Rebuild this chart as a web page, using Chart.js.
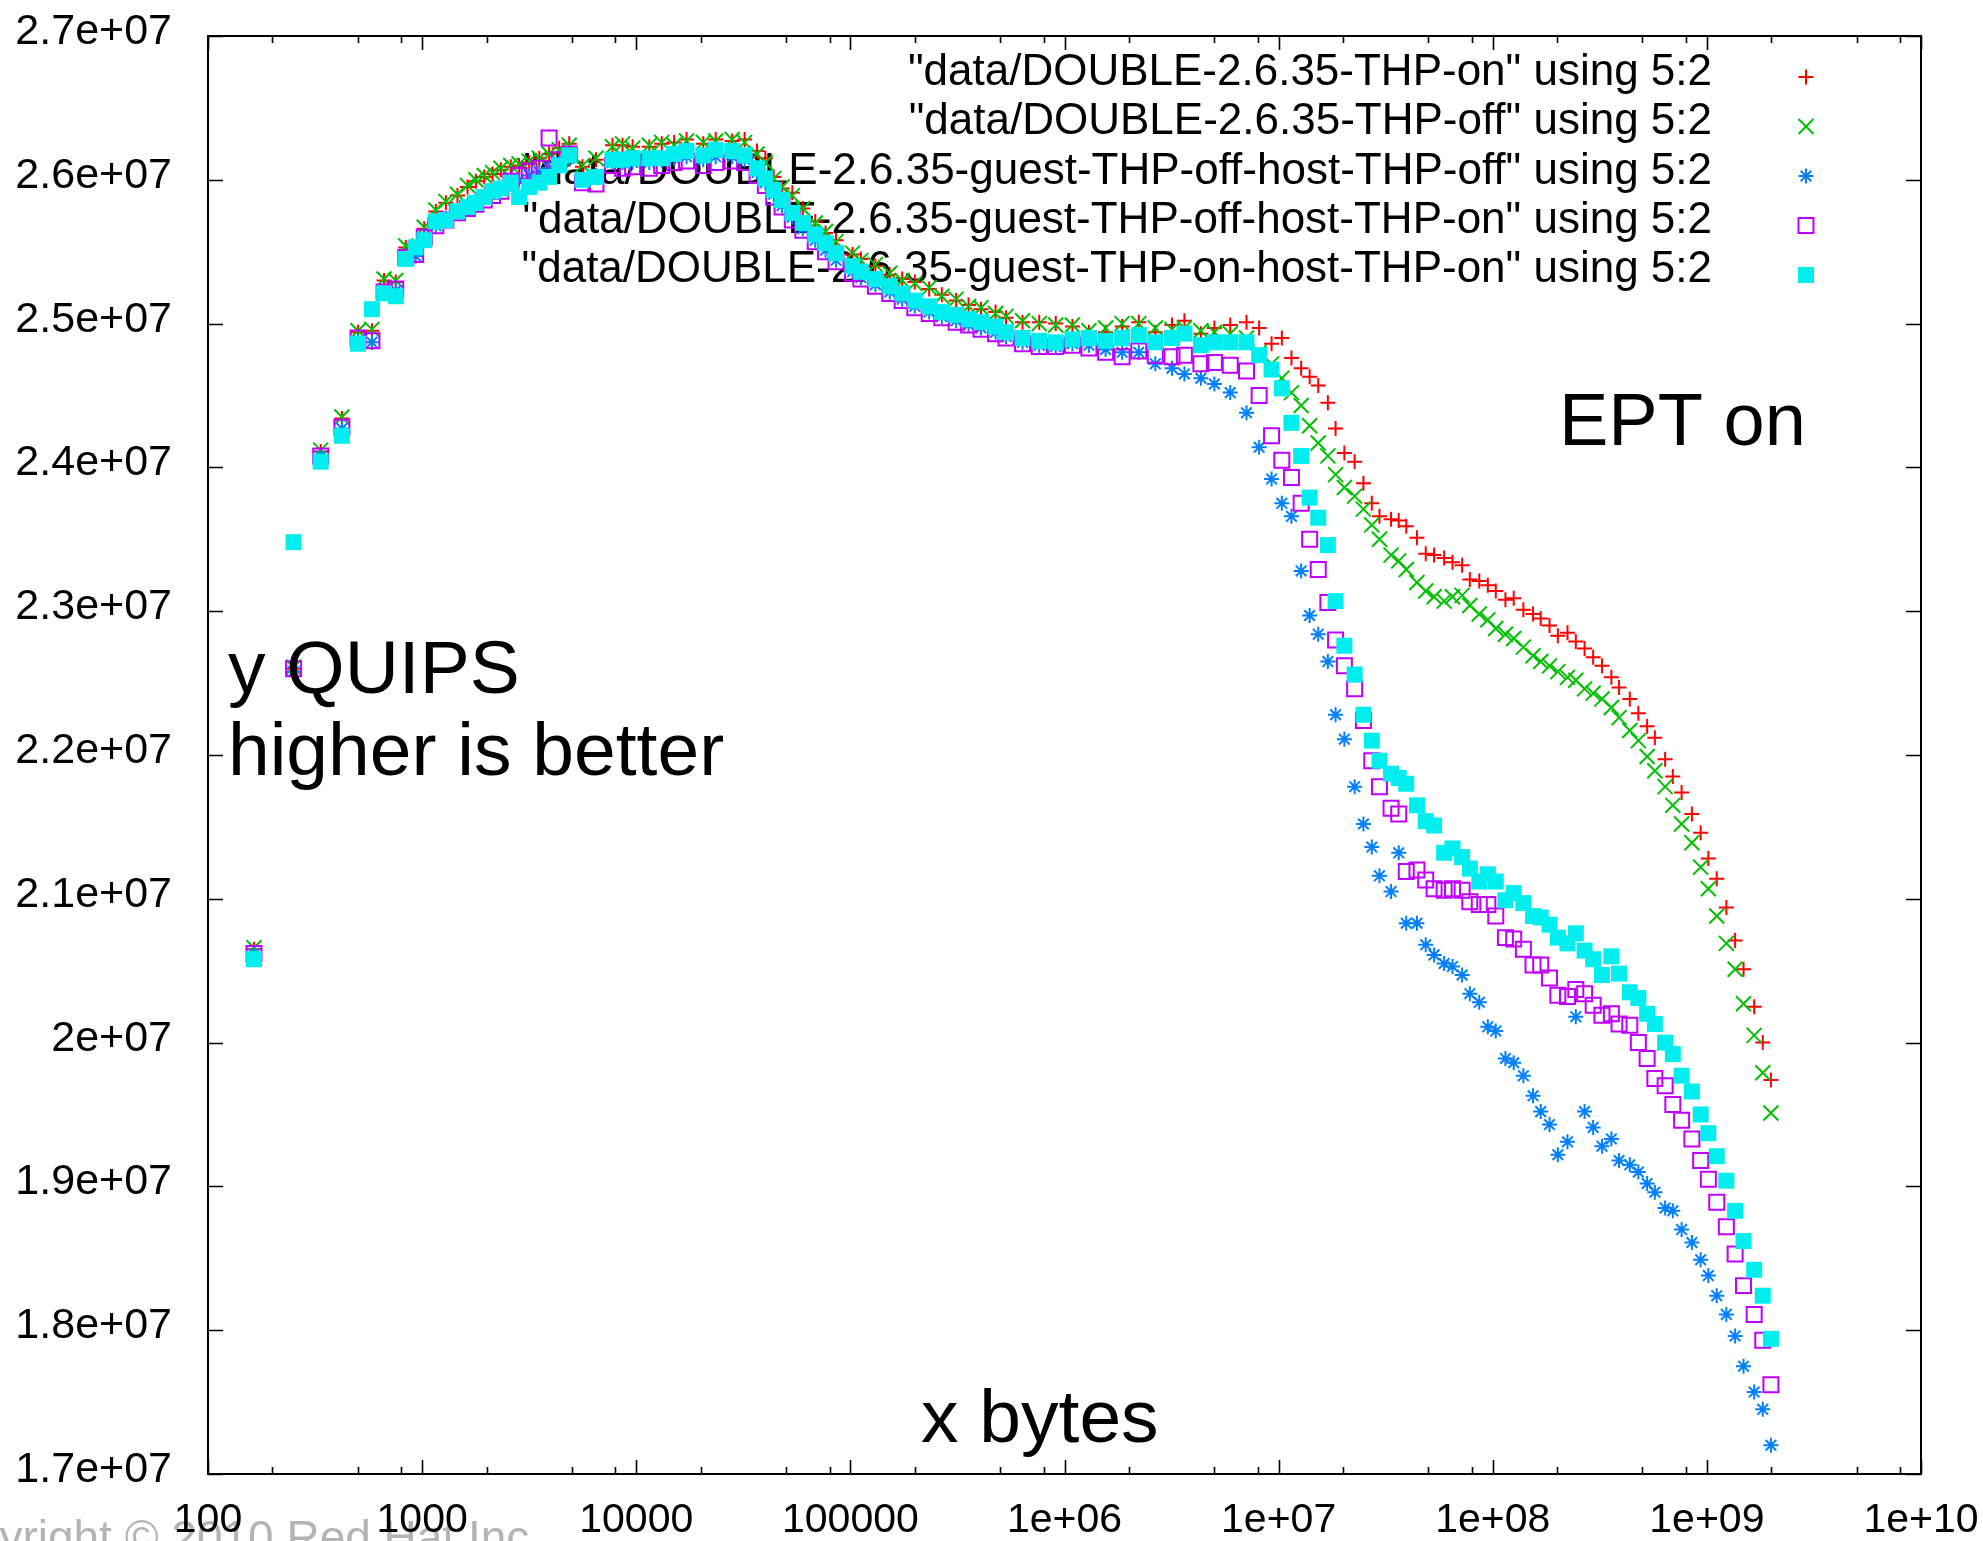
<!DOCTYPE html>
<html>
<head>
<meta charset="utf-8">
<title>DOUBLE 2.6.35 THP / EPT on</title>
<script src="https://cdn.jsdelivr.net/npm/chart.js@4.4.0/dist/chart.umd.min.js"></script>
<style>
  html, body { margin: 0; padding: 0; background: #fff; }
  canvas { display: block; }
</style>
</head>
<body>
<canvas id="chart" width="1983" height="1541"></canvas>
<script>
// Memory size of each step (bytes), the same steps for every run
const bytes = [
  164, 251, 336, 422, 502, 583, 664, 753, 839, 933,
  1023, 1159, 1291, 1462, 1629, 1782, 1950, 2133, 2333, 2594,
  2838, 3162, 3524, 3917, 4365, 4864, 5610, 6486, 7745, 8630,
  9616, 11508, 13152, 15031, 17179, 20559, 23496, 28054, 32063, 36644,
  40087, 43853, 47973, 53580, 59979, 68549, 76560, 85704, 102329, 111944,
  130918, 152757, 174582, 199986, 233346, 267301, 311889, 356451, 407380, 476431,
  533335, 636796, 762079, 909913, 1089000, 1300000, 1556000, 1858000, 2223000, 2655000,
  3177000, 3631000, 4335000, 5012000, 5943000, 7079000, 8110000, 9268000, 10350000, 11480000,
  12740000, 13960000, 15310000, 16980000, 18450000, 20280000, 22650000, 24890000, 27230000, 29580000,
  33500000, 36390000, 39450000, 44260000, 48640000, 53210000, 59290000, 64860000, 71940000, 78160000,
  86500000, 94840000, 103300000, 114600000, 125300000, 139000000, 154200000, 167500000, 184100000, 201400000,
  223400000, 244300000, 268500000, 294400000, 323600000, 358100000, 389000000, 436500000, 478600000, 526000000,
  571500000, 638300000, 693400000, 762100000, 851100000, 935400000, 1016000000, 1112000000, 1233000000, 1355000000,
  1483000000, 1663000000, 1824000000, 1991000000
];

// QUIPS, in millions
const thpOn = [
  20.65, 22.60, 24.11, 24.34, 24.94, 24.95, 25.30, 25.29, 25.53, 25.50,
  25.66, 25.78, 25.84, 25.89, 25.95, 25.99, 26.02, 26.04, 26.07, 26.09,
  26.10, 26.12, 26.15, 26.18, 26.22, 26.25, 26.09, 26.14, 26.24, 26.24,
  26.23, 26.23, 26.25, 26.26, 26.28, 26.25, 26.28, 26.27, 26.28, 26.20,
  26.15, 26.02, 25.94, 25.91, 25.80, 25.71, 25.63, 25.58, 25.48, 25.45,
  25.40, 25.34, 25.31, 25.29, 25.24, 25.20, 25.16, 25.13, 25.10, 25.08,
  25.04, 25.01, 25.01, 25.00, 24.98, 24.94, 24.94, 24.98, 25.01, 24.94,
  24.99, 25.02, 24.93, 24.97, 24.99, 25.01, 24.97, 24.86, 24.90, 24.76,
  24.69, 24.63, 24.57, 24.45, 24.27, 24.10, 24.04, 23.89, 23.75, 23.66,
  23.64, 23.63, 23.59, 23.51, 23.40, 23.39, 23.37, 23.34, 23.32, 23.22,
  23.21, 23.18, 23.14, 23.08, 23.09, 23.01, 22.98, 22.95, 22.90, 22.83,
  22.85, 22.79, 22.74, 22.68, 22.62, 22.54, 22.47, 22.39, 22.29, 22.20,
  22.12, 21.97, 21.85, 21.74, 21.59, 21.46, 21.28, 21.14, 20.94, 20.71,
  20.51, 20.25, 20.00, 19.74
];
const thpOff = [
  20.66, 22.61, 24.12, 24.35, 24.95, 24.96, 25.31, 25.30, 25.54, 25.51,
  25.67, 25.79, 25.85, 25.90, 25.96, 26.00, 26.03, 26.05, 26.08, 26.10,
  26.11, 26.13, 26.15, 26.18, 26.21, 26.24, 26.10, 26.15, 26.23, 26.25,
  26.22, 26.24, 26.26, 26.24, 26.27, 26.26, 26.27, 26.28, 26.26, 26.18,
  26.12, 26.01, 25.95, 25.89, 25.80, 25.70, 25.64, 25.57, 25.49, 25.44,
  25.41, 25.35, 25.30, 25.28, 25.25, 25.19, 25.17, 25.12, 25.11, 25.07,
  25.05, 25.02, 25.00, 24.99, 24.99, 24.95, 24.97, 25.00, 25.00, 24.97,
  24.96, 24.97, 24.95, 24.94, 24.93, 24.90, 24.80, 24.72, 24.62, 24.52,
  24.43, 24.29, 24.17, 24.08, 23.95, 23.86, 23.80, 23.71, 23.60, 23.50,
  23.39, 23.35, 23.29, 23.20, 23.14, 23.10, 23.07, 23.10, 23.11, 23.04,
  22.98, 22.94, 22.88, 22.84, 22.81, 22.75, 22.69, 22.65, 22.62, 22.58,
  22.54, 22.52, 22.46, 22.43, 22.39, 22.33, 22.26, 22.17, 22.10, 21.99,
  21.89, 21.78, 21.65, 21.52, 21.39, 21.22, 21.07, 20.88, 20.69, 20.51,
  20.27, 20.05, 19.79, 19.51
];
const guestOffHostOff = [
  20.62, 22.58, 24.08, 24.27, 24.88, 24.87, 25.22, 25.23, 25.45, 25.47,
  25.60, 25.68, 25.73, 25.78, 25.82, 25.85, 25.88, 25.91, 25.94, 25.97,
  26.00, 26.03, 26.05, 26.08, 26.12, 26.15, 26.00, 26.03, 26.12, 26.12,
  26.12, 26.12, 26.13, 26.15, 26.16, 26.14, 26.16, 26.16, 26.14, 26.05,
  25.98, 25.90, 25.82, 25.74, 25.66, 25.58, 25.51, 25.44, 25.36, 25.32,
  25.27, 25.22, 25.17, 25.12, 25.08, 25.05, 25.02, 24.99, 24.97, 24.94,
  24.91, 24.87, 24.85, 24.84, 24.86, 24.85, 24.82, 24.80, 24.80, 24.72,
  24.69, 24.65, 24.62, 24.58, 24.52, 24.38, 24.14, 23.92, 23.75, 23.66,
  23.28, 22.97, 22.84, 22.65, 22.28, 22.11, 21.78, 21.52, 21.36, 21.16,
  21.05, 21.32, 20.83, 20.83, 20.68, 20.61, 20.55, 20.53, 20.47, 20.34,
  20.28, 20.11, 20.08, 19.89, 19.86, 19.77, 19.63, 19.52, 19.43, 19.22,
  19.31, 20.18, 19.52, 19.41, 19.28, 19.33, 19.18, 19.15, 19.10, 19.02,
  18.96, 18.85, 18.83, 18.70, 18.61, 18.49, 18.38, 18.24, 18.11, 17.96,
  17.75, 17.57, 17.45, 17.20
];
const guestOffHostOn = [
  20.62, 22.60, 24.08, 24.28, 24.90, 24.88, 25.22, 25.24, 25.46, 25.48,
  25.60, 25.68, 25.72, 25.77, 25.80, 25.83, 25.86, 25.89, 25.92, 25.99,
  26.03, 26.06, 26.08, 26.29, 26.14, 26.18, 25.98, 25.97, 26.10, 26.08,
  26.09, 26.08, 26.10, 26.12, 26.13, 26.10, 26.12, 26.13, 26.12, 26.03,
  25.96, 25.88, 25.81, 25.72, 25.65, 25.57, 25.50, 25.43, 25.35, 25.31,
  25.26, 25.21, 25.16, 25.11, 25.07, 25.04, 25.01, 24.99, 24.96, 24.93,
  24.90, 24.86, 24.84, 24.84, 24.85, 24.83, 24.80, 24.77, 24.81, 24.78,
  24.77, 24.78, 24.72, 24.73, 24.71, 24.67, 24.50, 24.22, 24.05, 23.93,
  23.75, 23.50, 23.29, 23.06, 22.80, 22.62, 22.46, 22.24, 21.96, 21.78,
  21.63, 21.59, 21.19, 21.20, 21.13, 21.07, 21.06, 21.07, 21.06, 20.98,
  20.96, 20.96, 20.88, 20.73, 20.72, 20.65, 20.54, 20.54, 20.45, 20.33,
  20.32, 20.37, 20.34, 20.26, 20.19, 20.20, 20.13, 20.12, 20.00, 19.89,
  19.75, 19.70, 19.57, 19.46, 19.33, 19.18, 19.05, 18.89, 18.72, 18.53,
  18.31, 18.11, 17.93, 17.62
];
const guestOnHostOn = [
  20.58, 23.48, 24.04, 24.22, 24.86, 25.10, 25.21, 25.19, 25.45, 25.53,
  25.58, 25.71, 25.72, 25.78, 25.81, 25.84, 25.88, 25.92, 25.94, 25.98,
  25.88, 25.95, 25.98, 26.02, 26.10, 26.17, 26.00, 26.02, 26.14, 26.14,
  26.15, 26.15, 26.15, 26.18, 26.20, 26.17, 26.21, 26.20, 26.17, 26.08,
  26.01, 25.93, 25.86, 25.77, 25.70, 25.62, 25.56, 25.49, 25.40, 25.36,
  25.31, 25.26, 25.21, 25.16, 25.12, 25.08, 25.06, 25.03, 25.01, 24.98,
  24.94, 24.90, 24.88, 24.87, 24.89, 24.90, 24.88, 24.90, 24.92, 24.87,
  24.90, 24.93, 24.85, 24.87, 24.87, 24.87, 24.78, 24.68, 24.55, 24.31,
  24.08, 23.79, 23.65, 23.46, 23.07, 22.76, 22.56, 22.28, 22.10, 21.96,
  21.87, 21.84, 21.80, 21.65, 21.54, 21.51, 21.32, 21.35, 21.29, 21.21,
  21.12, 21.17, 21.12, 20.99, 21.04, 20.97, 20.88, 20.87, 20.82, 20.73,
  20.69, 20.76, 20.64, 20.58, 20.47, 20.60, 20.48, 20.35, 20.31, 20.20,
  20.13, 20.00, 19.92, 19.77, 19.66, 19.50, 19.37, 19.21, 19.04, 18.83,
  18.62, 18.42, 18.24, 17.94
];

const seriesLabels = [
  '"data/DOUBLE-2.6.35-THP-on" using 5:2',
  '"data/DOUBLE-2.6.35-THP-off" using 5:2',
  '"data/DOUBLE-2.6.35-guest-THP-off-host-THP-off" using 5:2',
  '"data/DOUBLE-2.6.35-guest-THP-off-host-THP-on" using 5:2',
  '"data/DOUBLE-2.6.35-guest-THP-on-host-THP-on" using 5:2'
];

const xTickValues = [1e2, 1e3, 1e4, 1e5, 1e6, 1e7, 1e8, 1e9, 1e10];
const xTickLabels = ['100', '1000', '10000', '100000', '1e+06', '1e+07', '1e+08', '1e+09', '1e+10'];
const xMinorSteps = [2, 5, 8];
const yTickValues = [17e6, 18e6, 19e6, 20e6, 21e6, 22e6, 23e6, 24e6, 25e6, 26e6, 27e6];
const yTickLabels = ['1.7e+07', '1.8e+07', '1.9e+07', '2e+07', '2.1e+07', '2.2e+07',
  '2.3e+07', '2.4e+07', '2.5e+07', '2.6e+07', '2.7e+07'];

const FONT = '"Liberation Sans", Arial, Helvetica, sans-serif';

// marker look of each run, gnuplot point types 1..5
const styles = [
  { values: thpOn, color: '#ff0000', shape: 'cross', radius: 7.5, filled: false },
  { values: thpOff, color: '#00c000', shape: 'crossRot', radius: 10.6, filled: false },
  { values: guestOffHostOff, color: '#0080ff', shape: 'star', radius: 7.5, filled: false },
  { values: guestOffHostOn, color: '#c000ff', shape: 'rect', radius: 10.6, filled: false },
  { values: guestOnHostOn, color: '#00eeee', shape: 'rect', radius: 11.3, filled: true }
];

const datasets = styles.map((s, i) => ({
  label: seriesLabels[i],
  data: bytes.map((b, j) => ({ x: b, y: s.values[j] * 1e6 })),
  showLine: false,
  pointStyle: s.shape,
  pointRadius: s.radius,
  pointHoverRadius: s.radius,
  pointBorderColor: s.color,
  pointBackgroundColor: s.filled ? s.color : 'rgba(0,0,0,0)',
  pointBorderWidth: s.filled ? 0 : 2,
  borderColor: s.color,
  backgroundColor: s.filled ? s.color : 'rgba(0,0,0,0)',
  order: styles.length - i
}));

// frame, inward ticks, tick labels, key and the free text of the gnuplot picture
const gnuplotDecor = {
  id: 'gnuplotDecor',
  beforeDraw(chart) {
    const ctx = chart.ctx;
    ctx.save();
    ctx.fillStyle = '#b4b4b4';
    ctx.font = '46px ' + FONT;
    ctx.textBaseline = 'alphabetic';
    ctx.textAlign = 'left';
    ctx.fillText('Copyright \u00a9 2010 Red Hat Inc.', -85, 1553);
    ctx.restore();
  },
  beforeDatasetsDraw(chart) {
    const { ctx, chartArea: a, scales } = chart;
    const x = scales.x, y = scales.y;
    ctx.save();
    ctx.strokeStyle = '#000';
    ctx.lineWidth = 2;
    ctx.strokeRect(a.left, a.top, a.right - a.left, a.bottom - a.top);

    ctx.beginPath();
    xTickValues.forEach((v, i) => {
      const px = Math.round(x.getPixelForValue(v)) + 0.5;
      ctx.moveTo(px, a.bottom); ctx.lineTo(px, a.bottom - 14);
      ctx.moveTo(px, a.top); ctx.lineTo(px, a.top + 14);
      if (i < xTickValues.length - 1) {
        xMinorSteps.forEach(m => {
          const mx = Math.round(x.getPixelForValue(v * m)) + 0.5;
          ctx.moveTo(mx, a.bottom); ctx.lineTo(mx, a.bottom - 7);
          ctx.moveTo(mx, a.top); ctx.lineTo(mx, a.top + 7);
        });
      }
    });
    yTickValues.forEach(v => {
      const py = Math.round(y.getPixelForValue(v)) + 0.5;
      ctx.moveTo(a.left, py); ctx.lineTo(a.left + 15, py);
      ctx.moveTo(a.right, py); ctx.lineTo(a.right - 15, py);
    });
    ctx.lineWidth = 1.6;
    ctx.stroke();

    // tick labels
    ctx.fillStyle = '#000';
    ctx.textBaseline = 'alphabetic';
    ctx.font = '41px ' + FONT;
    ctx.textAlign = 'center';
    xTickValues.forEach((v, i) => {
      ctx.fillText(xTickLabels[i], x.getPixelForValue(v), a.bottom + 58);
    });
    ctx.font = '43px ' + FONT;
    ctx.textAlign = 'right';
    yTickValues.forEach((v, i) => {
      ctx.fillText(yTickLabels[i], a.left - 36, y.getPixelForValue(v) + 8);
    });

    // key, top right, text right aligned with the marker after it
    ctx.font = '44px ' + FONT;
    ctx.textAlign = 'right';
    chart.data.datasets.forEach((ds, i) => {
      ctx.fillStyle = '#000';
      ctx.fillText(ds.label, 1712, 85 + i * 49.3);
      const s = styles[i];
      ctx.strokeStyle = s.color;
      ctx.fillStyle = s.filled ? s.color : 'rgba(0,0,0,0)';
      ctx.lineWidth = 2;
      Chart.helpers.drawPoint(ctx, {
        pointStyle: s.shape, radius: s.radius, rotation: 0,
        borderWidth: s.filled ? 0 : 2
      }, 1806, 77 + i * 49.5);
    });
    ctx.restore();
  },
  afterDatasetsDraw(chart) {
    const ctx = chart.ctx;
    ctx.save();
    ctx.fillStyle = '#000';
    ctx.textAlign = 'left';
    ctx.textBaseline = 'alphabetic';
    ctx.font = '74px ' + FONT;
    ctx.fillText('EPT on', 1559, 445);
    ctx.font = '75px ' + FONT;
    ctx.fillText('y QUIPS', 228, 693);
    ctx.fillText('higher is better', 228, 775);
    ctx.fillText('x bytes', 921, 1442);
    ctx.restore();
  }
};

new Chart(document.getElementById('chart'), {
  type: 'scatter',
  data: { datasets },
  plugins: [gnuplotDecor],
  options: {
    responsive: false,
    animation: false,
    events: [],
    layout: { padding: { top: 36, right: 62, left: 0, bottom: 0 } },
    plugins: { legend: { display: false }, tooltip: { enabled: false } },
    scales: {
      x: {
        type: 'logarithmic',
        min: 1e2,
        max: 1e10,
        grid: { display: false, drawTicks: false },
        border: { display: false },
        ticks: { display: false },
        afterBuildTicks: (s) => { s.ticks = xTickValues.map(v => ({ value: v })); },
        afterFit: (s) => { s.height = 67; }
      },
      y: {
        type: 'linear',
        min: 17e6,
        max: 27e6,
        grid: { display: false, drawTicks: false },
        border: { display: false },
        ticks: { display: false },
        afterBuildTicks: (s) => { s.ticks = yTickValues.map(v => ({ value: v })); },
        afterFit: (s) => { s.width = 208; }
      }
    }
  }
});
</script>
</body>
</html>
